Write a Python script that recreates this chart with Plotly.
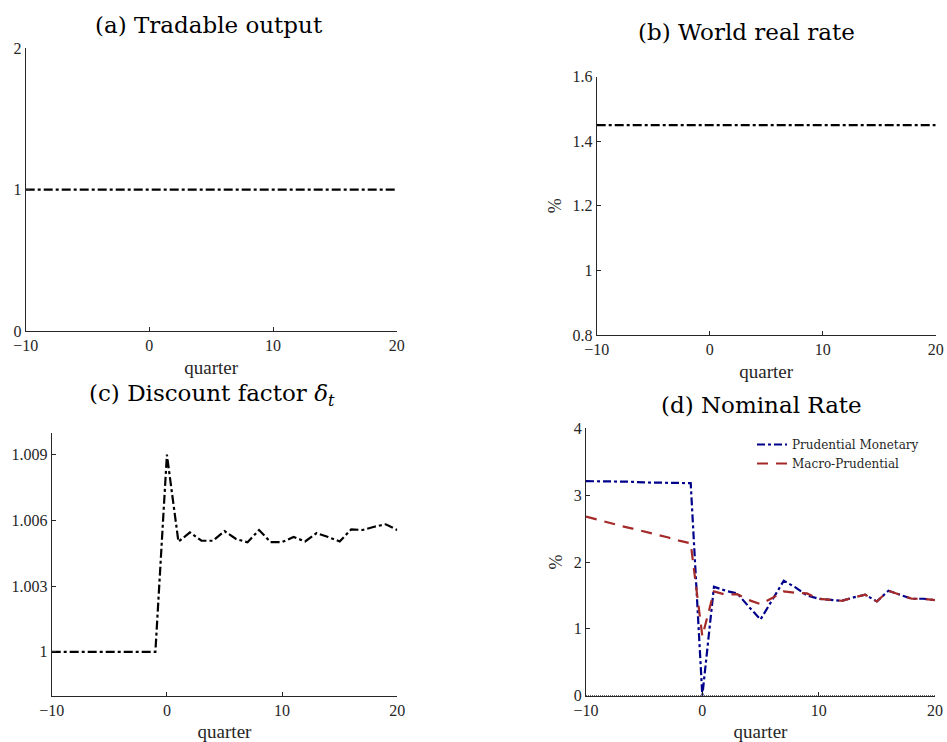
import plotly.graph_objects as go

quarter = [-10, -9, -8, -7, -6, -5, -4, -3, -2, -1, 0, 1, 2, 3, 4, 5, 6, 7, 8, 9,
           10, 11, 12, 13, 14, 15, 16, 17, 18, 19, 20]

tradable_output = [1.0] * 31
world_real_rate = [1.45] * 31

discount_factor = [1.0, 1.0, 1.0, 1.0, 1.0, 1.0, 1.0, 1.0, 1.0, 1.0,
                   1.0090, 1.00503, 1.00545, 1.00507, 1.00507, 1.00551, 1.00515,
                   1.00500, 1.00556, 1.00501, 1.00501, 1.00524, 1.00504, 1.00542,
                   1.00524, 1.00504, 1.00559, 1.00556, 1.00571, 1.00582, 1.00556]

prudential_monetary = [3.21, 3.21, 3.20, 3.20, 3.20, 3.19, 3.19, 3.19, 3.18, 3.18,
                       0.00, 1.63, 1.57, 1.53, 1.33, 1.14, 1.43, 1.72, 1.62, 1.50,
                       1.45, 1.43, 1.42, 1.47, 1.51, 1.41, 1.57, 1.51, 1.45, 1.45, 1.43]

macro_prudential = [2.68, 2.63, 2.59, 2.54, 2.50, 2.46, 2.41, 2.37, 2.32, 2.28,
                    0.89, 1.56, 1.51, 1.52, 1.43, 1.37, 1.46, 1.56, 1.54, 1.53,
                    1.45, 1.43, 1.42, 1.47, 1.51, 1.41, 1.57, 1.51, 1.45, 1.45, 1.43]

zero_line = [0.0] * 31

x_ticks = [-10, 0, 10, 20]

W, H = 947, 742
FONT = "Liberation Serif"
TFONT = "DejaVu Serif"
AX = "#262626"


def px(x):
    return x / W


def py(y):
    return 1 - y / H


fig = go.Figure()

black_dd = dict(color="black", width=2.2, dash="9px,3px,3px,3px")

fig.add_trace(go.Scatter(x=quarter, y=tradable_output, mode="lines", line=black_dd,
                         xaxis="x", yaxis="y", showlegend=False))
fig.add_trace(go.Scatter(x=quarter, y=world_real_rate, mode="lines", line=black_dd,
                         xaxis="x2", yaxis="y2", showlegend=False))
fig.add_trace(go.Scatter(x=quarter, y=discount_factor, mode="lines", line=black_dd,
                         xaxis="x3", yaxis="y3", showlegend=False))
fig.add_trace(go.Scatter(x=quarter, y=zero_line, mode="lines",
                         line=dict(color="black", width=1, dash="1px,1px"),
                         xaxis="x4", yaxis="y4", showlegend=False))
fig.add_trace(go.Scatter(x=quarter, y=prudential_monetary, mode="lines",
                         name="Prudential Monetary",
                         line=dict(color="#00008B", width=2.2, dash="8px,3px,3px,3px"),
                         xaxis="x4", yaxis="y4"))
fig.add_trace(go.Scatter(x=quarter, y=macro_prudential, mode="lines",
                         name="Macro-Prudential",
                         line=dict(color="#A52A2A", width=2.2, dash="11px,8px"),
                         xaxis="x4", yaxis="y4"))

tickfont = dict(family=FONT, size=16, color="#262626")


def xaxis(dom, anchor):
    return dict(domain=dom, anchor=anchor, range=[-10, 20], tickvals=x_ticks,
                ticks="inside", ticklen=4, tickcolor=AX, showline=True, linecolor=AX,
                linewidth=1, showgrid=False, zeroline=False, tickfont=tickfont,
                automargin=False, ticklabeloverflow="allow",
                title=dict(text="quarter", font=dict(family=FONT, size=19, color="#262626"),
                           standoff=7))


def yaxis(dom, anchor, rng, tv, tt, title=None):
    d = dict(domain=dom, anchor=anchor, range=rng, tickvals=tv, ticktext=tt,
             ticks="inside", ticklen=4, tickcolor=AX, showline=True, linecolor=AX,
             linewidth=1, showgrid=False, zeroline=False, tickfont=tickfont,
             automargin=False)
    if title:
        d["title"] = dict(text=title, font=dict(family=FONT, size=18, color="#262626"),
                          standoff=6)
    return d


fig.update_layout(
    width=W, height=H,
    margin=dict(l=0, r=0, t=0, b=0),
    paper_bgcolor="white", plot_bgcolor="white",
    font=dict(family=FONT, color="#262626"),
    xaxis=xaxis([px(25.7), px(396.7)], "y"),
    yaxis=yaxis([py(331), py(48.3)], "x", [0, 2], [0, 1, 2], ["0", "1", "2"]),
    xaxis2=xaxis([px(596.7), px(935.7)], "y2"),
    yaxis2=yaxis([py(335), py(76.7)], "x2", [0.8, 1.6], [0.8, 1.0, 1.2, 1.4, 1.6],
                 ["0.8", "1", "1.2", "1.4", "1.6"], "%"),
    xaxis3=xaxis([px(51.7), px(397.3)], "y3"),
    yaxis3=yaxis([py(695.7), py(432.7)], "x3", [0.998, 1.010], [1.0, 1.003, 1.006, 1.009],
                 ["1", "1.003", "1.006", "1.009"]),
    xaxis4=xaxis([px(586), px(935)], "y4"),
    yaxis4=yaxis([py(695.7), py(428.3)], "x4", [0, 4], [0, 1, 2, 3, 4],
                 ["0", "1", "2", "3", "4"], "%"),
    legend=dict(x=px(752), y=py(430), xanchor="left", yanchor="top",
                bgcolor="rgba(0,0,0,0)", font=dict(family=TFONT, size=12, color="#262626"),
                tracegroupgap=0, itemwidth=30),
)

titles = [
    ("(a) Tradable output", 208.5, 25),
    ("(b) World real rate", 746.7, 31.7),
    ("(c) Discount factor <i>δ<sub>t</sub></i>", 212, 395),
    ("(d) Nominal Rate", 761, 405),
]
for text, x, y in titles:
    fig.add_annotation(text=text, x=px(x), y=py(y), xref="paper", yref="paper",
                       xanchor="center", yanchor="middle", showarrow=False,
                       font=dict(family=TFONT, size=23, color="black"))

fig.write_html(
    "out.html",
    config={"displayModeBar": False},
    post_script="document.body.style.margin='0';document.body.style.overflow='hidden';",
)
